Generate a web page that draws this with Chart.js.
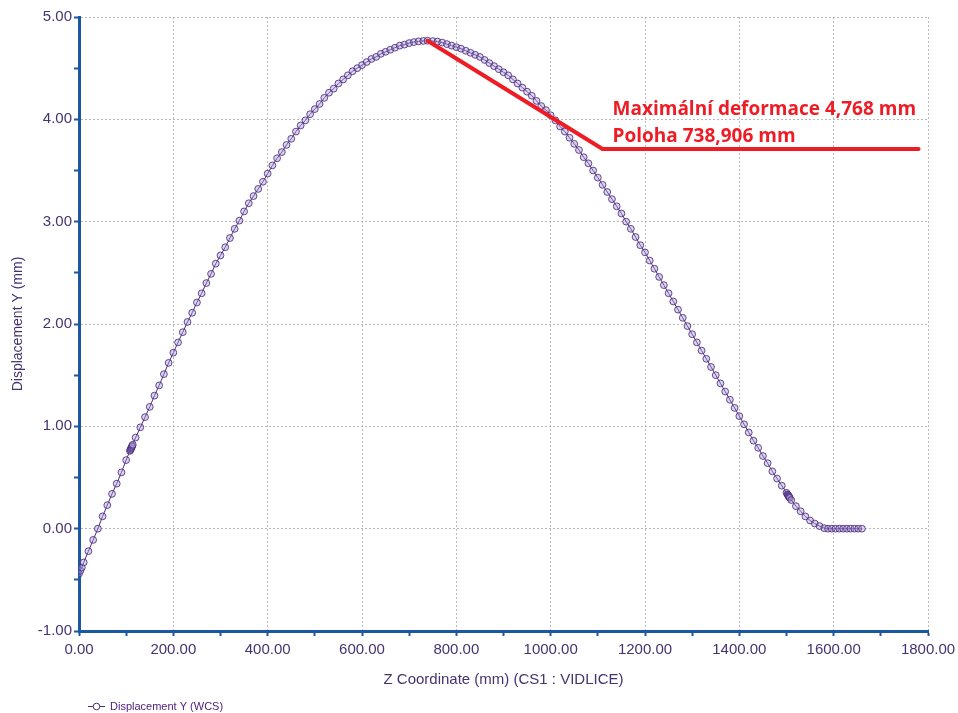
<!DOCTYPE html>
<html lang="en">
<head>
    <meta charset="UTF-8">
    <title>Displacement Y</title>
    <script src="https://cdn.jsdelivr.net/npm/chart.js@4.4.0/dist/chart.umd.min.js"></script>
    <style>
        body { margin: 0; background: #fff; }
        #wrap { width: 958px; height: 713px; }
    </style>
</head>
<body>
    <div id="wrap"><canvas id="dispChart" width="958" height="713"></canvas></div>

    <script>
        // Z coordinate of result points (mm)
        const zCoord = [
            0, 3, 6, 10, 20, 30, 40, 50, 60, 70, 80, 90, 100,
            108, 109, 110, 111, 112, 113, 114,
            120, 130, 140, 150, 160, 170, 180, 190, 200,
            210, 220, 230, 240, 250, 260, 270, 280, 290, 300,
            310, 320, 330, 340, 350, 360, 370, 380, 390, 400,
            410, 420, 430, 440, 450, 460, 470, 480, 490, 500,
            510, 520, 530, 540, 550, 560, 570, 580, 590, 600,
            610, 620, 630, 640, 650, 660, 670, 680, 690, 700,
            710, 720, 730, 738.906,
            750, 760, 770, 780, 790, 800,
            810, 820, 830, 840, 850, 860, 870, 880, 890, 900,
            910, 920, 930, 940, 950, 960, 970, 980, 990, 1000,
            1010, 1020, 1030, 1040, 1050, 1060, 1070, 1080, 1090, 1100,
            1110, 1120, 1130, 1140, 1150, 1160, 1170, 1180, 1190, 1200,
            1210, 1220, 1230, 1240, 1250, 1260, 1270, 1280, 1290, 1300,
            1310, 1320, 1330, 1340, 1350, 1360, 1370, 1380, 1390, 1400,
            1410, 1420, 1430, 1440, 1450, 1460, 1470, 1480, 1490, 1500,
            1502, 1503, 1504, 1505, 1506, 1507,
            1510, 1520, 1530, 1540, 1550, 1560, 1570, 1580,
            1588, 1596, 1604, 1612, 1620, 1628, 1636, 1644, 1652, 1660
        ];

        // Displacement Y (mm)
        const dispY = [
            -0.44, -0.41, -0.38, -0.33, -0.22, -0.11, 0.00, 0.12, 0.23, 0.34, 0.44, 0.55, 0.67,
            0.76, 0.77, 0.78, 0.79, 0.80, 0.81, 0.82,
            0.89, 0.99, 1.09, 1.19, 1.30, 1.40, 1.51, 1.62, 1.72,
            1.82, 1.92, 2.02, 2.11, 2.21, 2.30, 2.40, 2.49, 2.59, 2.67,
            2.75, 2.84, 2.93, 3.01, 3.10, 3.18, 3.25, 3.32, 3.39, 3.47,
            3.55, 3.62, 3.68, 3.75, 3.81, 3.88, 3.94, 3.99, 4.05, 4.10,
            4.15, 4.21, 4.26, 4.30, 4.35, 4.39, 4.43, 4.47, 4.50, 4.53,
            4.56, 4.59, 4.61, 4.64, 4.66, 4.68, 4.70, 4.72, 4.73, 4.745,
            4.755, 4.762, 4.766, 4.768,
            4.765, 4.76, 4.75, 4.735, 4.72, 4.705,
            4.69, 4.67, 4.65, 4.63, 4.61, 4.58, 4.55, 4.52, 4.49, 4.46,
            4.43, 4.39, 4.35, 4.31, 4.27, 4.23, 4.18, 4.13, 4.09, 4.04,
            3.99, 3.93, 3.88, 3.82, 3.76, 3.70, 3.63, 3.57, 3.50, 3.43,
            3.36, 3.29, 3.22, 3.15, 3.08, 3.00, 2.93, 2.85, 2.77, 2.70,
            2.62, 2.54, 2.46, 2.38, 2.30, 2.22, 2.14, 2.06, 1.98, 1.90,
            1.82, 1.74, 1.66, 1.58, 1.50, 1.42, 1.34, 1.26, 1.18, 1.10,
            1.02, 0.94, 0.86, 0.79, 0.71, 0.64, 0.56, 0.49, 0.42, 0.35,
            0.336, 0.329, 0.322, 0.315, 0.308, 0.301,
            0.28, 0.22, 0.17, 0.12, 0.08, 0.05, 0.025, 0.005,
            0, 0, 0, 0, 0, 0, 0, 0, 0, 0
        ];

        // red leader line: max point -> knee -> end of underline
        const annotZ = [738.906, 1110, 1780];
        const annotY = [4.768, 3.71, 3.71];
        const annotText = ['Maximální deformace 4,768 mm', 'Poloha 738,906 mm'];

        const legendLabel = 'Displacement Y (WCS)';

        const axisBlue = '#1c57a5';
        const textPurple = '#45336f';
        const seriesColor = '#4a2b7e';

        const isMajor = (v, step) => Math.abs(v / step - Math.round(v / step)) < 1e-6;

        const overlayPlugin = {
            id: 'overlay',
            afterDatasetsDraw(chart) {
                const ctx = chart.ctx;
                const xs = chart.scales.x, ys = chart.scales.y;
                const kx = xs.getPixelForValue(annotZ[1]);
                const ky = ys.getPixelForValue(annotY[1]);
                ctx.save();
                ctx.fillStyle = '#ee1c25';
                ctx.font = 'bold 19px "Open Sans"';
                ctx.textBaseline = 'alphabetic';
                ctx.fillText(annotText[0], kx + 10, ky - 34);
                ctx.fillText(annotText[1], kx + 10, ky - 7);
                ctx.restore();
            },
            afterDraw(chart) {
                // legend entry under the plot
                const ctx = chart.ctx;
                ctx.save();
                ctx.strokeStyle = seriesColor;
                ctx.lineWidth = 1;
                ctx.beginPath();
                ctx.moveTo(88, 706.5);
                ctx.lineTo(105, 706.5);
                ctx.stroke();
                ctx.beginPath();
                ctx.arc(96.5, 706.5, 3.3, 0, Math.PI * 2);
                ctx.fillStyle = '#fff';
                ctx.fill();
                ctx.stroke();
                ctx.fillStyle = '#4b1a7b';
                ctx.font = '11px "Liberation Sans"';
                ctx.textBaseline = 'middle';
                ctx.fillText(legendLabel, 110, 707);
                ctx.restore();
            }
        };

        const ctx = document.getElementById('dispChart').getContext('2d');

        new Chart(ctx, {
            type: 'scatter',
            data: {
                datasets: [
                    {
                        label: 'annotation',
                        data: annotZ.map((z, i) => ({ x: z, y: annotY[i] })),
                        showLine: true,
                        borderColor: '#ee1c25',
                        borderWidth: 4,
                        borderCapStyle: 'round',
                        borderJoinStyle: 'round',
                        pointRadius: 0,
                        order: 0
                    },
                    {
                        label: legendLabel,
                        data: zCoord.map((z, i) => ({ x: z, y: dispY[i] })),
                        showLine: true,
                        borderColor: seriesColor,
                        borderWidth: 1,
                        pointRadius: 3.4,
                        pointBorderWidth: 1,
                        pointBorderColor: 'rgba(74, 43, 126, 0.85)',
                        pointBackgroundColor: 'rgba(170, 150, 210, 0.4)',
                        order: 1
                    }
                ]
            },
            options: {
                responsive: false,
                animation: false,
                layout: { padding: { top: 17, right: 30, left: 0, bottom: 0 } },
                plugins: {
                    legend: { display: false },
                    tooltip: { enabled: false }
                },
                scales: {
                    x: {
                        type: 'linear',
                        min: 0,
                        max: 1800,
                        afterFit: (scale) => {
                            scale.height = 82;
                            scale.paddingLeft = 0;
                            scale.paddingRight = 0;
                        },
                        title: {
                            display: true,
                            text: 'Z Coordinate (mm) (CS1 : VIDLICE)',
                            color: textPurple,
                            font: { family: 'Liberation Sans', size: 15 },
                            padding: { top: 0, bottom: 24 }
                        },
                        ticks: {
                            stepSize: 100,
                            autoSkip: false,
                            maxRotation: 0,
                            color: textPurple,
                            font: { family: 'Liberation Sans', size: 15 },
                            padding: 5,
                            callback: (v) => isMajor(v, 200) ? v.toFixed(2) : ''
                        },
                        grid: {
                            color: (c) => (c.tick && isMajor(c.tick.value, 200)) ? '#b8b8b8' : 'rgba(0,0,0,0)',
                            lineWidth: 1,
                            tickColor: axisBlue,
                            tickWidth: 2,
                            tickLength: 5
                        },
                        border: { color: axisBlue, width: 3, dash: [2, 2] }
                    },
                    y: {
                        type: 'linear',
                        min: -1,
                        max: 5,
                        afterFit: (scale) => { scale.width = 79; },
                        title: {
                            display: true,
                            text: 'Displacement Y (mm)',
                            color: textPurple,
                            font: { family: 'Liberation Sans', size: 14 },
                            padding: { top: 10, bottom: 0 }
                        },
                        ticks: {
                            stepSize: 0.5,
                            autoSkip: false,
                            color: textPurple,
                            font: { family: 'Liberation Sans', size: 15 },
                            padding: 2,
                            callback: (v) => isMajor(v, 1) ? v.toFixed(2) : ''
                        },
                        grid: {
                            color: (c) => (c.tick && isMajor(c.tick.value, 1)) ? '#b8b8b8' : 'rgba(0,0,0,0)',
                            lineWidth: 1,
                            tickColor: axisBlue,
                            tickWidth: 2,
                            tickLength: 5
                        },
                        border: { color: axisBlue, width: 3, dash: [2, 2] }
                    }
                }
            },
            plugins: [overlayPlugin]
        });
    </script>
</body>
</html>
